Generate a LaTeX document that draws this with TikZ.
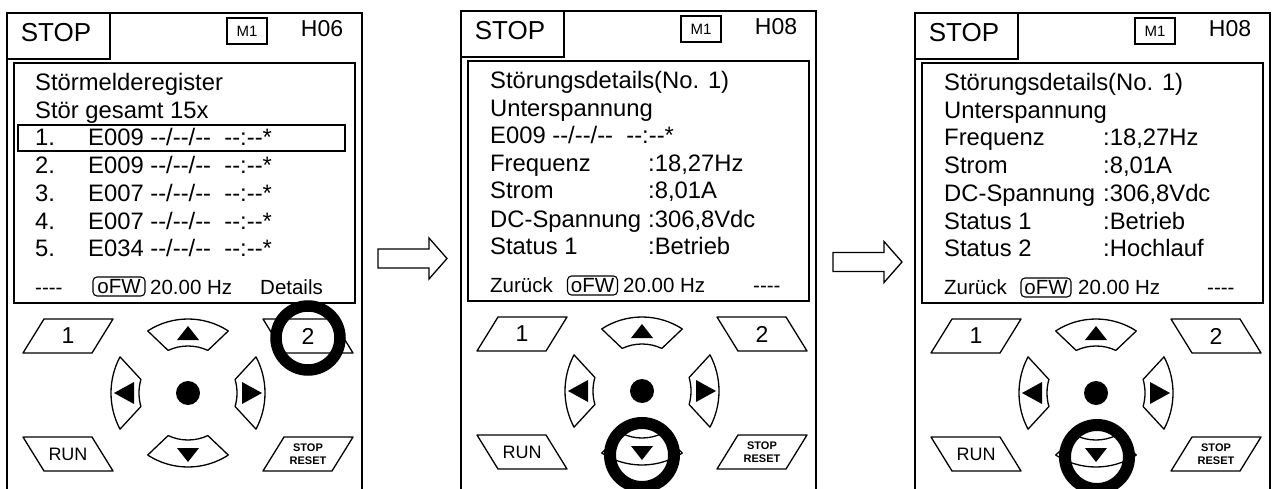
\documentclass[tikz,border=0pt]{standalone}
\usepackage{fontspec}
\setmainfont{Liberation Sans}[Ligatures=TeXOff]
\usetikzlibrary{calc}
\newcommand\fmain{\fontsize{23.8}{28}\selectfont}
\newcommand\fbot{\fontsize{20.5}{24}\selectfont}
\newcommand\kpad[1]{%
  \coordinate (#1c) at (181,380);
  % side keys
  \draw[keyline] (16,340) -- (37,306) -- (106,306) -- (85,340) -- cycle;
  \node[font=\fontsize{23}{26}\selectfont] (#1k1) at (61,323) {1};
  \draw[keyline] (256,306) -- (325,306) -- (346,340) -- (277,340) -- cycle;
  \node[font=\fontsize{23}{26}\selectfont] (#1k2) at (301,323) {2};
  \draw[keyline] (16,424) -- (85,424) -- (106,458) -- (37,458) -- cycle;
  \node[font=\fontsize{18}{20}\selectfont] (#1run) at (61,441) {RUN};
  \draw[keyline] (277,424) -- (346,424) -- (325,458) -- (256,458) -- cycle;
  \node[align=center,font=\bfseries\fontsize{11}{13}\selectfont] (#1sr) at (301,441.5) {STOP\\RESET};
  % arrow keys
  \draw[keyline] ($(#1c)+(-123:74)$) arc[start angle=-123,end angle=-57,radius=74]
     -- ($(#1c)+(-65:47)$) arc[start angle=-65,end angle=-115,radius=47] -- cycle;
  \draw[keyline] ($(#1c)+(123:74)$) arc[start angle=123,end angle=57,radius=74]
     -- ($(#1c)+(65:47)$) arc[start angle=65,end angle=115,radius=47] -- cycle;
  \draw[keyline] ($(#1c)+(152:77)$) arc[start angle=152,end angle=208,radius=77]
     -- ($(#1c)+(196:49)$) arc[start angle=196,end angle=164,radius=49] -- cycle;
  \draw[keyline] ($(#1c)+(-28:77)$) arc[start angle=-28,end angle=28,radius=77]
     -- ($(#1c)+(16:49)$) arc[start angle=16,end angle=-16,radius=49] -- cycle;
  \fill (181,313) -- (170,327) -- (192,327) -- cycle;
  \fill (170,435) -- (192,435) -- (181,449) -- cycle;
  \fill (107,380) -- (127,369) -- (127,391) -- cycle;
  \fill (255,380) -- (235,369) -- (235,391) -- cycle;
  \fill (#1c) circle[radius=12];
}
\newcommand\phead[3]{% prefix, H-code, height of outer lines
  \draw[frame] (0,#3) -- (0,0) -- (355,0) -- (355,#3);
  \draw[frame] (0,46) -- (103,46) -- (103,0);
  \node[anchor=base,inner sep=0pt,font=\fontsize{26}{28}\selectfont] (#1stop) at (49,29) {STOP};
  \node[draw,line width=1.2pt,minimum width=40pt,minimum height=26pt,inner sep=0pt,font=\fontsize{15}{17}\selectfont] (#1m) at (240,18) {M1};
  \node[anchor=base,inner sep=0pt,font=\fontsize{23}{26}\selectfont] (#1h) at (315,24) {#2};
  \draw[frame] (7,50) rectangle (348,290);
}
\begin{document}
\begin{tikzpicture}[x=1pt,y=-1pt,
  frame/.style={line width=1.8pt},
  keyline/.style={line width=1.3pt,line join=round},
  txt/.style={anchor=base west,inner sep=0pt,font=\fmain},
  bot/.style={anchor=base west,inner sep=0pt,font=\fbot},
  ofw/.style={draw,line width=1.1pt,rounded corners=4pt,minimum width=50pt,minimum height=19pt,inner sep=0pt,font=\fbot},
  ring/.style={line width=11.5pt},
  blockarrow/.style={line width=1.3pt,line join=miter}]
\useasboundingbox (0,0) rectangle (1276,489);
\fill[white] (0,0) rectangle (1276,489);

% ---------- panel 1 ----------
\begin{scope}[shift={(7,13)}]
  \phead{a}{H06}{476}
  \node[txt] (at1) at (28,78) {Störmelderegister};
  \node[txt] (at2) at (28,106) {Stör gesamt 15x};
  \draw[line width=1.3pt] (11,112) rectangle (338,138);
  \node[txt] (an1) at (28,133) {1.};
  \node[txt] (ae1) at (81,133) {E009 --/--/--\ \ --:--*};
  \node[txt] (an2) at (28,161) {2.};
  \node[txt] (ae2) at (81,161) {E009 --/--/--\ \ --:--*};
  \node[txt] (an3) at (28,188) {3.};
  \node[txt] (ae3) at (81,188) {E007 --/--/--\ \ --:--*};
  \node[txt] (an4) at (28,216) {4.};
  \node[txt] (ae4) at (81,216) {E007 --/--/--\ \ --:--*};
  \node[txt] (an5) at (28,243) {5.};
  \node[txt] (ae5) at (81,243) {E034 --/--/--\ \ --:--*};
  \node[bot] (ab1) at (28,281) {----};
  \node[ofw,minimum width=52pt] (aofw) at (112,273.5) {oFW};
  \node[bot] (ab2) at (143,281) {20.00 Hz};
  \node[bot] (ab3) at (253,281) {Details};
  \kpad{a}
  \draw[ring] (301,325) circle[radius=32];
\end{scope}

% ---------- arrow 1 ----------
\draw[blockarrow] (378,249) -- (429,249) -- (429,238) -- (447,258.5) -- (429,279) -- (429,268) -- (378,268) -- cycle;

% ---------- panel 2 ----------
\begin{scope}[shift={(461,11)}]
  \phead{b}{H08}{478}
  \node[txt] (bt1) at (29,78) {Störungsdetails(No. 1)};
  \node[txt] (bt2) at (29,106) {Unterspannung};
  \node[txt] (bt3) at (29,133) {E009 --/--/--\ \ --:--*};
  \node[txt] (bl4) at (29,161) {Frequenz};
  \node[txt] (bv4) at (187,161) {:18,27Hz};
  \node[txt] (bl5) at (29,188) {Strom};
  \node[txt] (bv5) at (187,188) {:8,01A};
  \node[txt] (bl6) at (29,216) {DC-Spannung};
  \node[txt] (bv6) at (187,216) {:306,8Vdc};
  \node[txt] (bl7) at (29,243) {Status 1};
  \node[txt] (bv7) at (187,243) {:Betrieb};
  \node[bot] (bb1) at (29,281) {Zurück};
  \node[ofw] (bofw) at (131.5,274.5) {oFW};
  \node[bot] (bb2) at (162,281) {20.00 Hz};
  \node[bot] (bb3) at (292,281) {----};
  \kpad{b}
  \draw[ring,line width=12pt] (181,444) circle[radius=32];
\end{scope}

% ---------- arrow 2 ----------
\draw[blockarrow] (833,252.5) -- (884,252.5) -- (884,241.5) -- (902,262) -- (884,282.5) -- (884,271.5) -- (833,271.5) -- cycle;

% ---------- panel 3 ----------
\begin{scope}[shift={(915,13)}]
  \phead{c}{H08}{476}
  \node[txt] (ct1) at (29,78) {Störungsdetails(No. 1)};
  \node[txt] (ct2) at (29,106) {Unterspannung};
  \node[txt] (cl3) at (29,133) {Frequenz};
  \node[txt] (cv3) at (188,133) {:18,27Hz};
  \node[txt] (cl4) at (29,161) {Strom};
  \node[txt] (cv4) at (188,161) {:8,01A};
  \node[txt] (cl5) at (29,188) {DC-Spannung};
  \node[txt] (cv5) at (188,188) {:306,8Vdc};
  \node[txt] (cl6) at (29,216) {Status 1};
  \node[txt] (cv6) at (188,216) {:Betrieb};
  \node[txt] (cl7) at (29,243) {Status 2};
  \node[txt] (cv7) at (188,243) {:Hochlauf};
  \node[bot] (cb1) at (29,281) {Zurück};
  \node[ofw] (cofw) at (131,274.5) {oFW};
  \node[bot] (cb2) at (163,281) {20.00 Hz};
  \node[bot] (cb3) at (292,281) {----};
  \kpad{c}
  \draw[ring,line width=12pt] (182,444) circle[radius=32];
\end{scope}
\end{tikzpicture}
\end{document}
